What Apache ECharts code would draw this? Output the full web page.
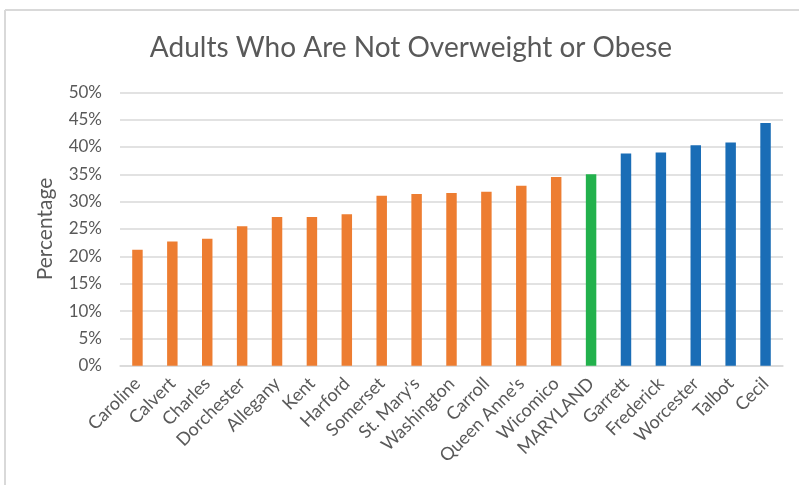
<!DOCTYPE html>
<html>
<head>
<meta charset="utf-8">
<script src="https://cdn.jsdelivr.net/npm/echarts@6/dist/echarts.min.js"></script>
<style>html,body{margin:0;padding:0;background:#fff;}#c{width:799px;height:485px;}</style>
</head>
<body>
<div id="c"></div>
<script>
const categories = ["Caroline","Calvert","Charles","Dorchester","Allegany","Kent","Harford","Somerset","St. Mary's","Washington","Carroll","Queen Anne's","Wicomico","MARYLAND","Garrett","Frederick","Worcester","Talbot","Cecil"];
const values = [21.2,22.7,23.2,25.5,27.2,27.2,27.7,31.1,31.4,31.6,31.8,32.9,34.5,35.0,38.8,39.0,40.3,40.8,44.4];
const groups = ["below","below","below","below","below","below","below","below","below","below","below","below","below","state","above","above","above","above","above"];
const yTicks = [0,5,10,15,20,25,30,35,40,45,50];
const groupColors = {below:"#ED7D31", state:"#22B14C", above:"#1A6DB6"};
const font = "Lato, 'Open Sans', sans-serif";
const chart = echarts.init(document.getElementById('c'));
chart.setOption({
  animation:false,
  title:{text:"Adults Who Are Not Overweight or Obese", left:406, top:29, textAlign:'center',
    textStyle:{fontFamily:font, fontSize:28, fontWeight:'normal', color:'#595959'}},
  graphic:[
    {type:'line', shape:{x1:5,y1:10,x2:799,y2:10}, style:{stroke:'#d9d9d9', lineWidth:2}},
    {type:'line', shape:{x1:5,y1:10,x2:5,y2:485}, style:{stroke:'#d9d9d9', lineWidth:2}}
  ],
  grid:{left:120, right:16, top:92.3, bottom:119.3, containLabel:false},
  xAxis:{type:'category', data:categories,
    axisLine:{lineStyle:{color:'#d9d9d9', width:1.5}}, axisTick:{show:false},
    axisLabel:{rotate:45, interval:0, fontFamily:font, fontSize:18, color:'#595959', margin:15}},
  yAxis:{type:'value', min:yTicks[0], max:yTicks[yTicks.length-1], interval:5,
    name:'Percentage', nameLocation:'middle', nameGap:64, nameRotate:90,
    nameTextStyle:{fontFamily:font, fontSize:21, color:'#595959'},
    axisLine:{show:false}, axisTick:{show:false},
    axisLabel:{formatter:v=>v+'%', fontFamily:font, fontSize:17, color:'#595959', margin:18},
    splitLine:{lineStyle:{color:'#d9d9d9', width:1.5}}},
  series:[{type:'bar', barWidth:'30%',
    data:values.map((v,i)=>({value:v, itemStyle:{color:groupColors[groups[i]]}}))}]
});
</script>
</body>
</html>
